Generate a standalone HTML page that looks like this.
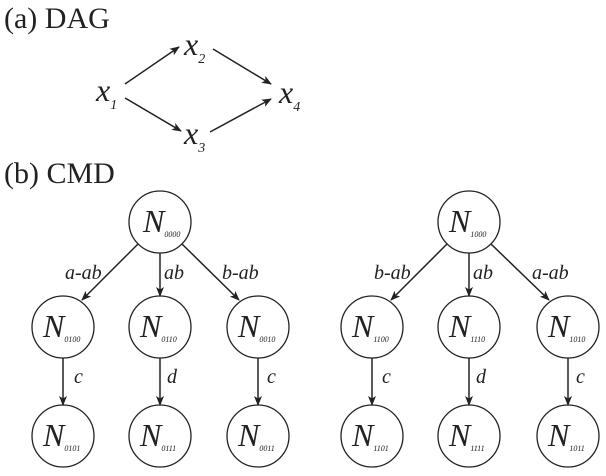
<!DOCTYPE html>
<html><head><style>
body{margin:0;background:#fff;}
text{font-family:"Liberation Serif","DejaVu Serif",serif;}
</style></head><body>
<svg width="606" height="471" viewBox="0 0 606 471" xmlns="http://www.w3.org/2000/svg" font-family="Liberation Serif, DejaVu Serif, serif">
<defs><marker id="a" markerWidth="10" markerHeight="8" refX="9" refY="4" orient="auto" markerUnits="userSpaceOnUse"><path d="M0,0 L10,4 L0,8 L2.5,4 Z" fill="#222"/></marker></defs>
<g fill="#222" font-family="Liberation Serif, serif">
<text x="4" y="28" font-size="30">(a) DAG</text>
<text x="4" y="183" font-size="30">(b) CMD</text>
<g font-style="italic" font-size="32">
<text x="96" y="101">x<tspan font-size="14" dy="8">1</tspan></text>
<text x="184" y="55">x<tspan font-size="14" dy="8">2</tspan></text>
<text x="184" y="144">x<tspan font-size="14" dy="8">3</tspan></text>
<text x="279" y="103">x<tspan font-size="14" dy="8">4</tspan></text>
</g>
</g>
<g stroke="#222" stroke-width="1.5" marker-end="url(#a)">
<line x1="125" y1="84" x2="179" y2="47"/>
<line x1="213" y1="49" x2="271" y2="84"/>
<line x1="125" y1="98" x2="181" y2="131"/>
<line x1="210" y1="132" x2="271" y2="99"/>
</g>
<g fill="none" stroke="#222" stroke-width="1.3">
<circle cx="160" cy="222" r="31"/>
<circle cx="63" cy="327" r="31"/><circle cx="160" cy="327" r="31"/><circle cx="258" cy="327" r="31"/>
<circle cx="63" cy="436" r="31"/><circle cx="160" cy="436" r="31"/><circle cx="258" cy="436" r="31"/>
<circle cx="469" cy="222" r="31"/>
<circle cx="372" cy="327" r="31"/><circle cx="469" cy="327" r="31"/><circle cx="568" cy="327" r="31"/>
<circle cx="372" cy="436" r="31"/><circle cx="469" cy="436" r="31"/><circle cx="568" cy="436" r="31"/>
</g>
<g stroke="#222" stroke-width="1.5" marker-end="url(#a)">
<line x1="138" y1="244" x2="82" y2="300"/>
<line x1="160" y1="253" x2="160" y2="296"/>
<line x1="182" y1="244" x2="239" y2="300"/>
<line x1="63" y1="358" x2="63" y2="405"/>
<line x1="160" y1="358" x2="160" y2="405"/>
<line x1="258" y1="358" x2="258" y2="405"/>
<line x1="447" y1="244" x2="391" y2="300"/>
<line x1="469" y1="253" x2="469" y2="296"/>
<line x1="491" y1="244" x2="549" y2="300"/>
<line x1="372" y1="358" x2="372" y2="405"/>
<line x1="469" y1="358" x2="469" y2="405"/>
<line x1="568" y1="358" x2="568" y2="405"/>
</g>
<g fill="#222" font-style="italic" font-family="Liberation Serif, serif">
<g font-size="20">
<text x="65" y="279">a-ab</text><text x="164" y="279">ab</text><text x="222" y="279">b-ab</text>
<text x="74" y="383">c</text><text x="167" y="383">d</text><text x="267" y="383">c</text>
<text x="374" y="279">b-ab</text><text x="473" y="279">ab</text><text x="532" y="279">a-ab</text>
<text x="382" y="383">c</text><text x="476" y="383">d</text><text x="576" y="383">c</text>
</g>
<g font-size="32">
<text x="143" y="232">N<tspan font-size="8" dy="5">0000</tspan></text>
<text x="43" y="337">N<tspan font-size="8" dy="5">0100</tspan></text>
<text x="140" y="337">N<tspan font-size="8" dy="5">0110</tspan></text>
<text x="238" y="337">N<tspan font-size="8" dy="5">0010</tspan></text>
<text x="43" y="446">N<tspan font-size="8" dy="5">0101</tspan></text>
<text x="140" y="446">N<tspan font-size="8" dy="5">0111</tspan></text>
<text x="238" y="446">N<tspan font-size="8" dy="5">0011</tspan></text>
<text x="449" y="232">N<tspan font-size="8" dy="5">1000</tspan></text>
<text x="352" y="337">N<tspan font-size="8" dy="5">1100</tspan></text>
<text x="449" y="337">N<tspan font-size="8" dy="5">1110</tspan></text>
<text x="548" y="337">N<tspan font-size="8" dy="5">1010</tspan></text>
<text x="352" y="446">N<tspan font-size="8" dy="5">1101</tspan></text>
<text x="449" y="446">N<tspan font-size="8" dy="5">1111</tspan></text>
<text x="548" y="446">N<tspan font-size="8" dy="5">1011</tspan></text>
</g>
</g>
</svg>
</body></html>
